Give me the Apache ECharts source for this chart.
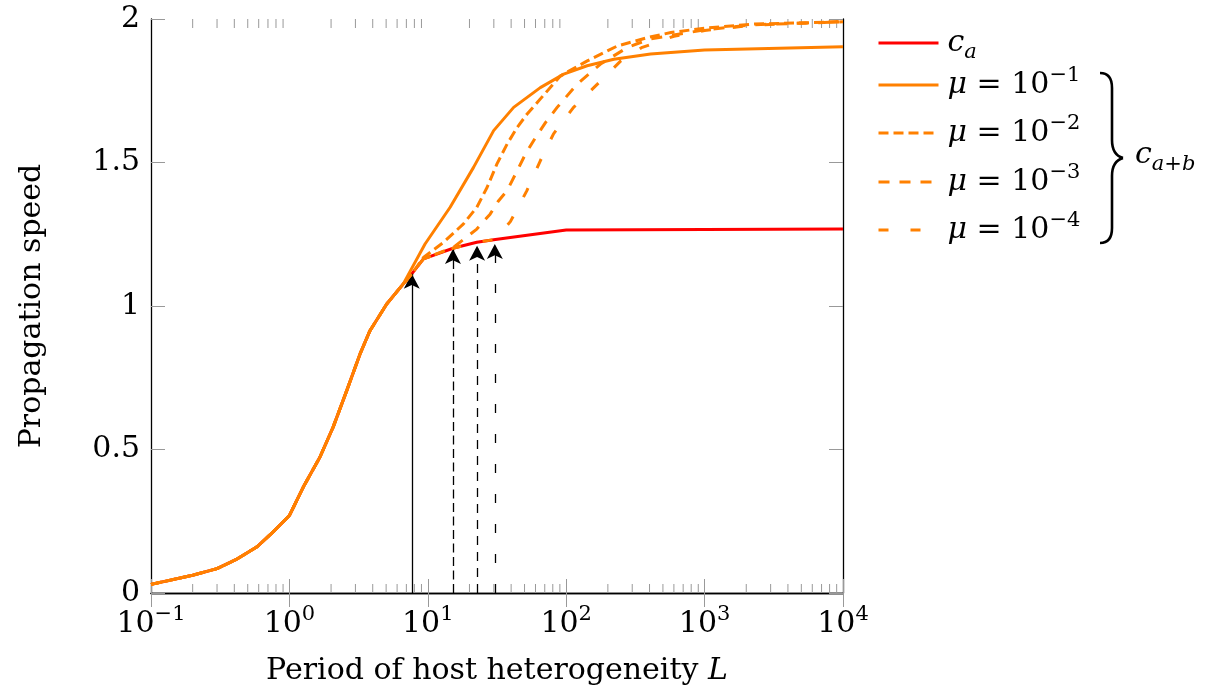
<!DOCTYPE html>
<html><head><meta charset="utf-8">
<script src="https://cdn.jsdelivr.net/npm/echarts@6/dist/echarts.min.js"></script>
<style>html,body{margin:0;padding:0;background:#fff}#c{width:1215px;height:698px}</style>
</head><body><div id="c"></div>
<script>
// ---------- data ----------
const X_TICK_EXPONENTS = [-1, 0, 1, 2, 3, 4];
const Y_TICK_LABELS = ['0', '0.5', '1', '1.5', '2'];

// shared low-L part of every curve
const BASE_L = [0.1, 0.2, 0.3, 0.41, 0.58, 0.76, 1.0, 1.26, 1.66, 2.07, 2.6, 3.24, 3.82, 5.05, 6.65];
const BASE_V = [0.030, 0.062, 0.085, 0.116, 0.16, 0.212, 0.27, 0.369, 0.473, 0.578, 0.706, 0.833, 0.914, 1.007, 1.077];

// c_a (red)
const CA_L = [7.66, 9.3, 15.4, 22.6, 30.8, 100, 10000];
const CA_V = [1.112, 1.164, 1.202, 1.222, 1.232, 1.265, 1.268];

// mu = 1e-1 (solid orange)
const MU1_L = [9.55, 14.5, 21.4, 29.9, 41.7, 65, 96, 141.6, 221, 407, 1000, 10000];
const MU1_V = [1.216, 1.344, 1.483, 1.611, 1.692, 1.761, 1.808, 1.837, 1.86, 1.878, 1.892, 1.903];

// mu = 1e-2
const MU2_L = [7.66, 9.3, 13, 18.1, 22.6, 26.8, 31.6, 37.4, 44.2, 52.2, 63.3, 91, 142, 234, 386, 571, 1000, 2200, 10000];
const MU2_V = [1.112, 1.169, 1.222, 1.286, 1.344, 1.413, 1.495, 1.564, 1.622, 1.669, 1.715, 1.802, 1.854, 1.906, 1.935, 1.953, 1.968, 1.982, 1.99];

// mu = 1e-3
const MU3_L = [7.66, 9.3, 15.3, 22.6, 28.2, 32.5, 37.4, 44.2, 50.7, 60, 70.8, 86, 120, 177, 275, 400, 1000, 2200, 10000];
const MU3_V = [1.112, 1.164, 1.204, 1.268, 1.32, 1.367, 1.402, 1.471, 1.529, 1.587, 1.639, 1.692, 1.773, 1.843, 1.9, 1.93, 1.962, 1.98, 1.99];

// mu = 1e-4
const MU4_L = [7.66, 9.3, 15.4, 22.6, 30.8, 39.5, 52, 65, 81, 113, 168, 248, 350, 600, 1000, 2200, 10000];
const MU4_V = [1.112, 1.164, 1.202, 1.222, 1.232, 1.294, 1.402, 1.506, 1.6, 1.692, 1.773, 1.854, 1.9, 1.94, 1.96, 1.978, 1.992];

// arrows (position L and tip value)
const ARROW_L = [7.66, 15.2, 22.7, 30.5];
const ARROW_V = [1.112, 1.199, 1.21, 1.216];

// ---------- styling ----------
const FONT = 'DejaVu Serif';
const ORANGE = '#ff8000';
const RED = '#ff0000';
const TICK = '#999999';
const FS = 30, SUPFS = 21;

function pairs(L, V) { return L.map((l, i) => [l, V[i]]); }
function withBase(L, V) { return pairs(BASE_L, BASE_V).concat(pairs(L, V)); }

const minorTicks = [];
for (let e = -1; e < 4; e++) for (let m = 2; m <= 9; m++) minorTicks.push([m * Math.pow(10, e), 0]);

const RICH = {
  n: {fontFamily: FONT, fontSize: FS, lineHeight: 40, color: '#000'},
  i: {fontFamily: FONT, fontStyle: 'italic', fontSize: FS, lineHeight: 40, color: '#000'},
  sub: {fontFamily: FONT, fontStyle: 'italic', fontSize: SUPFS, lineHeight: 22, verticalAlign: 'bottom', color: '#000'},
  subn: {fontFamily: FONT, fontSize: SUPFS, lineHeight: 22, verticalAlign: 'bottom', color: '#000'},
  sup: {fontFamily: FONT, fontSize: SUPFS, lineHeight: 22, verticalAlign: 'top', color: '#000'}
};

const SERIES_DEF = [
  {name: 'ca', data: withBase(CA_L, CA_V), color: RED, dash: 'solid'},
  {name: 'mu1', data: withBase(MU1_L, MU1_V), color: ORANGE, dash: 'solid'},
  {name: 'mu2', data: withBase(MU2_L, MU2_V), color: ORANGE, dash: [10, 5]},
  {name: 'mu3', data: withBase(MU3_L, MU3_V), color: ORANGE, dash: [11, 10]},
  {name: 'mu4', data: withBase(MU4_L, MU4_V), color: ORANGE, dash: [10, 22]}
];
const ARROW_DASH = ['solid', [9, 4.5], [9, 7], [9, 21]];

function legendText(name) {
  if (name === 'ca') return '{i|c}{sub|a}';
  return '{i|μ}{n| = 10}{sup|−' + name.slice(2) + '}';
}
const LEGEND_CENTER = [43, 85, 133, 182, 230];

const chart = echarts.init(document.getElementById('c'), null, {renderer: 'canvas'});

const series = SERIES_DEF.map((s, k) => {
  const o = {
    type: 'line', name: s.name, data: s.data, xAxisIndex: 0, yAxisIndex: 0,
    symbol: 'none', smooth: false, z: 3 + k,
    lineStyle: {color: s.color, width: 3, type: s.dash, cap: 'butt'},
    itemStyle: {color: s.color}
  };
  if (k === 0) {
    o.markLine = {
      silent: true, animation: false, symbol: ['none', 'arrow'], symbolSize: [12, 15],
      label: {show: false},
      data: ARROW_L.map((l, j) => [
        {coord: [l, 0], lineStyle: {color: '#000', width: 1.3, type: ARROW_DASH[j]}, itemStyle: {color: '#000'}},
        {coord: [l, ARROW_V[j]], lineStyle: {color: '#000', width: 1.3, type: ARROW_DASH[j]}, itemStyle: {color: '#000'}}
      ])
    };
  }
  return o;
});

series.push({
  type: 'custom', name: 'minor', xAxisIndex: 0, yAxisIndex: 0, silent: true, clip: false, z: 1,
  data: minorTicks, encode: {x: 0, y: 1},
  renderItem(params, api) {
    const x = api.coord([api.value(0), 0])[0];
    const yb = api.coord([1, 0])[1];
    const yt = api.coord([1, 2])[1];
    return {type: 'group', children: [
      {type: 'line', shape: {x1: x, y1: yb, x2: x, y2: yb - 9}, style: {stroke: TICK, lineWidth: 1}},
      {type: 'line', shape: {x1: x, y1: yt, x2: x, y2: yt + 9}, style: {stroke: TICK, lineWidth: 1}}
    ]};
  }
});

const xCommon = {
  type: 'log', logBase: 10, min: 0.1, max: 10000, splitNumber: 5,
  axisLine: {show: true, lineStyle: {color: '#000', width: 1.3}},
  axisTick: {show: true, inside: true, length: 14, lineStyle: {color: TICK, width: 1}},
  splitLine: {show: false}, minorTick: {show: false}
};
const yCommon = {
  type: 'value', min: 0, max: 2, interval: 0.5,
  axisLine: {show: true, lineStyle: {color: '#000', width: 1.3}},
  axisTick: {show: true, inside: true, length: 14, lineStyle: {color: TICK, width: 1}},
  splitLine: {show: false}
};

const BRACE = {stroke: '#000', lineWidth: 2.6, fill: null};

chart.setOption({
  animation: false,
  backgroundColor: '#fff',
  grid: {left: 151, right: 372, top: 19, bottom: 105, containLabel: false},
  xAxis: [
    Object.assign({}, xCommon, {
      position: 'bottom',
      axisLabel: {
        margin: 11, color: '#000',
        formatter: v => {
          const e = Math.round(Math.log10(v));
          const s = String(e).replace('-', '−');
          return '{n|10}{sup|' + s + '}';
        },
        rich: RICH
      },
      name: 'Period of host heterogeneity {i|L}', nameLocation: 'middle', nameGap: 58,
      nameTextStyle: {fontFamily: FONT, fontSize: FS, color: '#000', rich: RICH}
    }),
    Object.assign({}, xCommon, {position: 'top', axisLabel: {show: false}})
  ],
  yAxis: [
    Object.assign({}, yCommon, {
      position: 'left',
      axisLabel: {
        margin: 11, color: '#000', fontFamily: FONT, fontSize: FS,
        formatter: v => Y_TICK_LABELS[Math.round(v / 0.5)]
      },
      name: 'Propagation speed', nameLocation: 'middle', nameGap: 104, nameRotate: 90,
      nameTextStyle: {fontFamily: FONT, fontSize: FS, color: '#000'}
    }),
    Object.assign({}, yCommon, {position: 'right', axisLabel: {show: false}})
  ],
  legend: SERIES_DEF.map((s, k) => ({
    data: [s.name], orient: 'vertical', left: 877, top: LEGEND_CENTER[k] - 20,
    padding: 0, itemGap: 0, itemWidth: 60, itemHeight: 14, selectedMode: false,
    itemStyle: {opacity: 0},
    lineStyle: {width: 3},
    formatter: legendText,
    textStyle: {fontFamily: FONT, fontSize: FS, color: '#000', lineHeight: 40, padding: [0, 0, 0, 4], rich: RICH}
  })),
  graphic: [
    {type: 'bezierCurve', silent: true, shape: {x1: 1100, y1: 73, cpx1: 1108, cpy1: 73, cpx2: 1112, cpy2: 78, x2: 1112, y2: 88}, style: BRACE},
    {type: 'line', silent: true, shape: {x1: 1112, y1: 88, x2: 1112, y2: 140}, style: BRACE},
    {type: 'bezierCurve', silent: true, shape: {x1: 1112, y1: 140, cpx1: 1112, cpy1: 150, cpx2: 1116, cpy2: 156, x2: 1123, y2: 158}, style: BRACE},
    {type: 'bezierCurve', silent: true, shape: {x1: 1123, y1: 158, cpx1: 1116, cpy1: 160, cpx2: 1112, cpy2: 166, x2: 1112, y2: 176}, style: BRACE},
    {type: 'line', silent: true, shape: {x1: 1112, y1: 176, x2: 1112, y2: 228}, style: BRACE},
    {type: 'bezierCurve', silent: true, shape: {x1: 1112, y1: 228, cpx1: 1112, cpy1: 238, cpx2: 1108, cpy2: 243, x2: 1100, y2: 243}, style: BRACE},
    {
      type: 'text', silent: true, left: 1135, top: 140,
      style: {text: '{i|c}{sub|a}{subn|+}{sub|b}', rich: RICH, fontFamily: FONT, fontSize: FS, fill: '#000'}
    }
  ],
  series: series
});
</script></body></html>
